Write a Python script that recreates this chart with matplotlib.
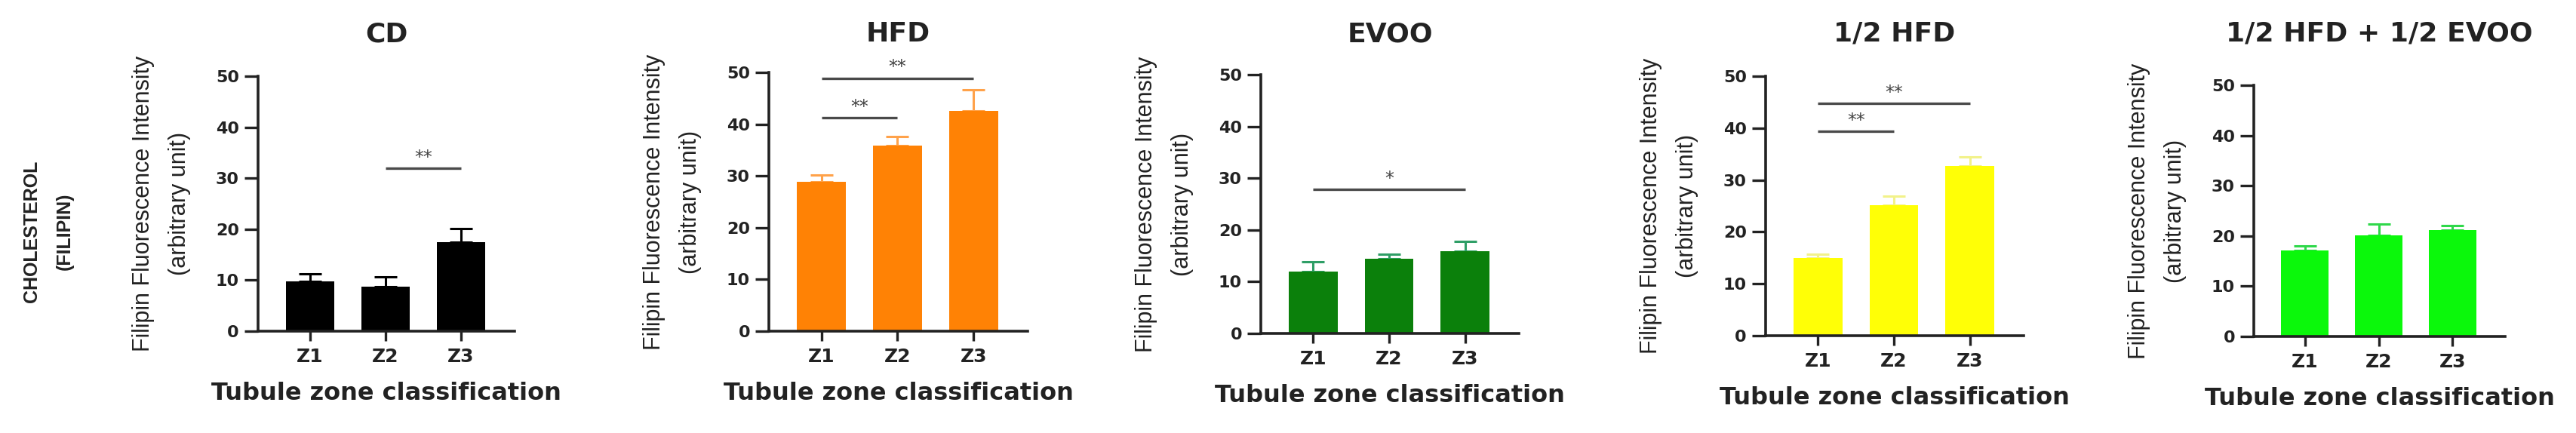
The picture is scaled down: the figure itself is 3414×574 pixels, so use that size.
import numpy as np
import matplotlib
matplotlib.use("Agg")
import matplotlib.pyplot as plt

plt.rcParams['font.family'] = ['DejaVu Sans']

zones = ["Z1", "Z2", "Z3"]
titles = ["CD", "HFD", "EVOO", "1/2 HFD", "1/2 HFD + 1/2 EVOO"]

cd_means = [9.8, 8.7, 17.5]
cd_err = [1.4, 2.0, 2.6]
hfd_means = [28.8, 35.8, 42.6]
hfd_err = [1.4, 1.8, 4.0]
evoo_means = [12.0, 14.4, 15.9]
evoo_err = [1.9, 0.9, 1.9]
half_hfd_means = [15.0, 25.2, 32.7]
half_hfd_err = [0.7, 1.7, 1.8]
mix_means = [17.1, 20.1, 21.1]
mix_err = [0.9, 2.3, 0.9]

# significance brackets: (from zone index, to zone index, y level, label)
cd_sig = [(1, 2, 31.9, "**")]
hfd_sig = [(0, 1, 41.2, "**"), (0, 2, 48.9, "**")]
evoo_sig = [(0, 2, 27.8, "*")]
half_hfd_sig = [(0, 1, 39.4, "**"), (0, 2, 44.8, "**")]
mix_sig = []

bar_colors = ["#000000", "#FF8205", "#0B800B", "#FFFF06", "#0BF80B"]
err_colors = ["#000000", "#FFA24A", "#2E9E66", "#F2F28A", "#2FD84A"]

panels = [
    (cd_means, cd_err, cd_sig),
    (hfd_means, hfd_err, hfd_sig),
    (evoo_means, evoo_err, evoo_sig),
    (half_hfd_means, half_hfd_err, half_hfd_sig),
    (mix_means, mix_err, mix_sig),
]

W, H = 3414, 574
# axes boxes in pixels: left, right, top, bottom
boxes = [(342, 682, 101, 439), (1019, 1362, 96, 439), (1671, 2013, 99, 442),
         (2340, 2682, 101, 445), (2987, 3320, 113, 446)]

fig = plt.figure(figsize=(W / 100, H / 100), dpi=100)
axis_col = "#222222"

for i, (means, err, sig) in enumerate(panels):
    l, r, t, b = boxes[i]
    ax = fig.add_axes([l / W, 1 - b / H, (r - l) / W, (b - t) / H])
    x = np.arange(len(zones))
    ax.errorbar(x, means, yerr=[np.zeros(len(err)), err], fmt="none",
                ecolor=err_colors[i], elinewidth=2.2, capsize=11, capthick=2.2, zorder=1)
    ax.bar(x, means, width=0.64, color=bar_colors[i], zorder=2)

    for a, c, y, lab in sig:
        ax.plot([a, c], [y, y], color="#4a4a4a", lw=2.4, solid_capstyle="butt", zorder=3)
        ax.text((a + c) / 2, y + 0.3, lab, ha="center", va="bottom",
                fontsize=17, color="#444444")

    ax.set_xlim(-0.69, 2.71)
    ax.set_ylim(0, 50)
    ax.set_yticks([0, 10, 20, 30, 40, 50])
    ax.set_xticks(x)
    ax.set_xticklabels(zones, fontsize=18, fontweight="bold", color="#222222")
    for lab in ax.get_yticklabels():
        lab.set_fontsize(16)
        lab.set_fontweight("bold")
        lab.set_color("#222222")
    ax.tick_params(axis="y", length=13, width=2.4, pad=5, color=axis_col)
    ax.tick_params(axis="x", length=9, width=2.4, pad=7, color=axis_col)
    for s in ["top", "right"]:
        ax.spines[s].set_visible(False)
    for s in ["left", "bottom"]:
        ax.spines[s].set_linewidth(2.6)
        ax.spines[s].set_color(axis_col)
    ax.spines["left"].set_bounds(0, 50)

    ax.set_xlabel("Tubule zone classification", fontsize=23, fontweight="bold",
                  color="#222222", labelpad=15)
    ax.text(-128 / (r - l), 0.5, "Filipin Fluorescence Intensity\n(arbitrary unit)",
            transform=ax.transAxes, rotation=90, ha="center", va="center",
            multialignment="center", linespacing=1.8, fontsize=22,
            family=["Liberation Sans", "DejaVu Sans"], color="#222222")

    fig.text((l + r) / 2 / W, 1 - 45 / H, titles[i], ha="center", va="center",
             fontsize=26, fontweight="bold", color="#222222")

fig.text(64 / W, 1 - 307 / H, "CHOLESTEROL\n(FILIPIN)", rotation=90, ha="center",
         va="center", multialignment="center", linespacing=2.0, fontsize=18,
         fontweight="bold", family=["Liberation Sans", "DejaVu Sans"], color="#222222")

fig.savefig("out.png", dpi=100)
